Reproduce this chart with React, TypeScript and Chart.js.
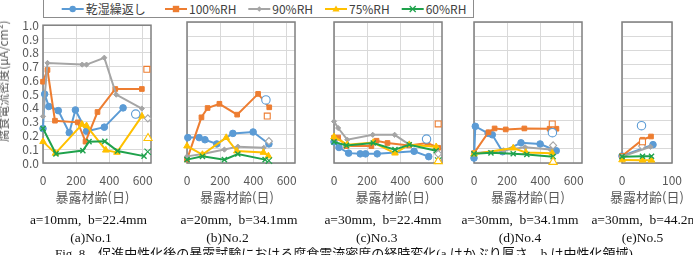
import React, { useEffect, useRef } from "react";
import { Chart, registerables } from "chart.js";

Chart.register(...registerables);

type Pt = [number, number];

// ---- series definitions -------------------------------------------------
const SERIES_LABELS = ["乾湿繰返し", "100%RH", "90%RH", "75%RH", "60%RH"];
const SERIES_COLORS = ["#5B9BD5", "#ED7D31", "#A5A5A5", "#FFC000", "#1FA24C"];
const SERIES_MARKERS = ["circle", "rect", "rectRot", "triangle", "crossRot"];
const MARKER_RADII = [3.3, 3.3, 2.6, 3.8, 3.6];

// ---- axis ticks ---------------------------------------------------------
const CURRENT_TICKS = [0, 0.1, 0.2, 0.3, 0.4, 0.5, 0.6, 0.7, 0.8, 0.9, 1.0];
const AGE_TICKS = [0, 200, 400, 600];
const AGE_TICKS_NO5 = [0, 100];
const AGE_MAX = 650;
const AGE_MAX_NO5 = 100;

// ---- No.1  [exposure age (days), corrosion current density (μA/cm²)] ----
const no1Dry: Pt[] = [[0, 0.25], [10, 0.5], [35, 0.41], [92, 0.38], [158, 0.22], [195, 0.385], [262, 0.23], [369, 0.26], [482, 0.4]];
const no1Rh100: Pt[] = [[0, 0.59], [27, 0.675], [72, 0.307], [209, 0.295], [256, 0.155], [328, 0.37], [435, 0.537], [595, 0.537]];
const no1Rh90: Pt[] = [[0, 0.338], [27, 0.726], [236, 0.714], [262, 0.714], [369, 0.764], [441, 0.496], [595, 0.395]];
const no1Rh75: Pt[] = [[0, 0.155], [75, 0.07], [235, 0.28], [262, 0.27], [378, 0.093], [445, 0.077], [595, 0.34]];
const no1Rh60: Pt[] = [[0, 0.25], [78, 0.066], [240, 0.09], [277, 0.155], [372, 0.157], [449, 0.087], [608, 0.05]];
const no1Open: (Pt | null)[] = [[558, 0.355], [625, 0.68], [631, 0.324], [632, 0.18], [630, 0.082]];

// ---- No.2 ----
const no2Dry: Pt[] = [[5, 0.18], [73, 0.18], [108, 0.165], [179, 0.135], [276, 0.21], [398, 0.22], [493, 0.135]];
const no2Rh100: Pt[] = [[0, 0.025], [87, 0.324], [124, 0.39], [195, 0.42], [302, 0.343], [428, 0.49], [495, 0.395]];
const no2Rh90: Pt[] = [[0, 0.047], [93, 0.064], [225, 0.095], [306, 0.116], [462, 0.108]];
const no2Rh75: Pt[] = [[0, 0.12], [93, 0.06], [236, 0.18], [300, 0.085], [460, 0.075], [490, 0.05]];
const no2Rh60: Pt[] = [[0, 0.024], [93, 0.047], [225, 0.024], [306, 0.064], [470, 0.024]];
const no2Open: (Pt | null)[] = [[475, 0.447], [483, 0.333], [493, 0.155], null, [493, 0.017]];

// ---- No.3 ----
const no3Dry: Pt[] = [[0, 0.15], [30, 0.11], [88, 0.07], [158, 0.065], [190, 0.065], [260, 0.065], [482, 0.083], [570, 0.045]];
const no3Rh100: Pt[] = [[0, 0.18], [25, 0.18], [74, 0.12], [225, 0.12], [256, 0.158], [322, 0.142], [451, 0.125], [562, 0.142], [627, 0.108]];
const no3Rh90: Pt[] = [[0, 0.295], [25, 0.248], [80, 0.165], [233, 0.2], [365, 0.2], [453, 0.13]];
const no3Rh75: Pt[] = [[0, 0.185], [80, 0.13], [236, 0.145], [367, 0.07], [453, 0.13], [615, 0.115]];
const no3Rh60: Pt[] = [[0, 0.15], [75, 0.125], [236, 0.142], [367, 0.095], [453, 0.13], [615, 0.087]];
const no3Open: (Pt | null)[] = [[557, 0.17], [627, 0.277], [627, 0.065], [627, 0.012], [627, 0.017]];

// ---- No.4 ----
const no4Dry: Pt[] = [[0, 0.035], [8, 0.26], [85, 0.21], [110, 0.2], [172, 0.08], [283, 0.143], [398, 0.135], [495, 0.087]];
const no4Rh100: Pt[] = [[0, 0.07], [87, 0.218], [124, 0.245], [191, 0.238], [303, 0.245], [455, 0.243], [496, 0.243]];
const no4Rh90: Pt[] = [[0, 0.07], [180, 0.09], [308, 0.111], [461, 0.095]];
const no4Rh75: Pt[] = [[0, 0.064], [236, 0.106], [312, 0.075], [471, 0.07]];
const no4Rh60: Pt[] = [[0, 0.065], [102, 0.072], [236, 0.066], [318, 0.06], [476, 0.045]];
const no4Open: (Pt | null)[] = [[472, 0.215], [471, 0.277], [476, 0.125], [476, 0.007], null];

// ---- No.5 ----
const no5Dry: Pt[] = [[0, 0.05], [62, 0.13]];
const no5Rh100: Pt[] = [[0, 0.05], [41, 0.165], [58, 0.188]];
const no5Rh90: Pt[] = [[0, 0.045], [57, 0.115]];
const no5Rh75: Pt[] = [[0, 0.022], [41, 0.02], [59, 0.02]];
const no5Rh60: Pt[] = [[0, 0.045], [41, 0.048], [59, 0.048]];
const no5Open: (Pt | null)[] = [[39, 0.265], [41, 0.15], [40, 0.12], null, null];

// ---- text ----
const Y_TITLE = "腐食電流密度(μA/cm²)";
const X_TITLE = "暴露材齢(日)";
const FIG_CAPTION = "Fig. 8\u3000促進中性化後の暴露試験における腐食電流密度の経時変化(a はかぶり厚さ，b は中性化領域)";

// ---- layout ----
const PLOT_TOP = 22;
const PLOT_H = 141;
const PAD_TOP = 8;
const PAD_RIGHT = 12;
const AXIS_H = 27;
const SANS = "'Noto Sans CJK JP', 'Noto Sans', sans-serif";
const SERIF = "'Liberation Serif', 'Times New Roman', 'Noto Sans CJK JP', serif";
const TEXT_GRAY = "#595959";

type PanelDef = {
  series: Pt[][];
  open: (Pt | null)[];
  ageMax: number;
  ageTicks: number[];
  left: number;
  width: number;
  yLabels: boolean;
  titleX: number;
  capX: number;
  nameX: number;
  cap: string;
  name: string;
};

const PANELS: PanelDef[] = [
  { series: [no1Dry, no1Rh100, no1Rh90, no1Rh75, no1Rh60], open: no1Open, ageMax: AGE_MAX, ageTicks: AGE_TICKS, left: 43, width: 108, yLabels: true, titleX: 92.5, capX: 88.5, nameX: 91, cap: "a=10mm,\u00a0\u00a0b=22.4mm", name: "(a)No.1" },
  { series: [no2Dry, no2Rh100, no2Rh90, no2Rh75, no2Rh60], open: no2Open, ageMax: AGE_MAX, ageTicks: AGE_TICKS, left: 187, width: 108, yLabels: false, titleX: 237, capX: 239, nameX: 227.5, cap: "a=20mm,\u00a0\u00a0b=34.1mm", name: "(b)No.2" },
  { series: [no3Dry, no3Rh100, no3Rh90, no3Rh75, no3Rh60], open: no3Open, ageMax: AGE_MAX, ageTicks: AGE_TICKS, left: 334, width: 108, yLabels: false, titleX: 392.5, capX: 383, nameX: 376.7, cap: "a=30mm,\u00a0\u00a0b=22.4mm", name: "(c)No.3" },
  { series: [no4Dry, no4Rh100, no4Rh90, no4Rh75, no4Rh60], open: no4Open, ageMax: AGE_MAX, ageTicks: AGE_TICKS, left: 474, width: 108, yLabels: false, titleX: 528, capX: 520, nameX: 520, cap: "a=30mm,\u00a0\u00a0b=34.1mm", name: "(d)No.4" },
  { series: [no5Dry, no5Rh100, no5Rh90, no5Rh75, no5Rh60], open: no5Open, ageMax: AGE_MAX_NO5, ageTicks: AGE_TICKS_NO5, left: 622, width: 50, yLabels: false, titleX: 647, capX: 650, nameX: 642.5, cap: "a=30mm,\u00a0\u00a0b=44.2mm", name: "(e)No.5" },
];

// plot-area frame, drawn under the series
const framePlugin = {
  id: "plotFrame",
  beforeDatasetsDraw(chart: any) {
    const { ctx, chartArea: a } = chart;
    ctx.save();
    ctx.strokeStyle = "#7f7f7f";
    ctx.lineWidth = 1.5;
    ctx.strokeRect(a.left, a.top, a.right - a.left, a.bottom - a.top);
    ctx.restore();
  },
};

function Panel({ p }: { p: PanelDef }) {
  const ref = useRef<HTMLCanvasElement>(null);
  const axisW = p.yLabels ? 43 : 6;
  const cw = axisW + p.width + PAD_RIGHT;
  const ch = PAD_TOP + PLOT_H + AXIS_H;

  useEffect(() => {
    if (!ref.current) return;
    const datasets: any[] = [];
    p.series.forEach((pts, i) => {
      datasets.push({
        label: SERIES_LABELS[i],
        data: pts.map(([x, y]) => ({ x, y })),
        borderColor: SERIES_COLORS[i],
        backgroundColor: SERIES_COLORS[i],
        borderWidth: 2,
        pointStyle: SERIES_MARKERS[i],
        pointRadius: MARKER_RADII[i],
        pointBackgroundColor: SERIES_COLORS[i],
        pointBorderColor: SERIES_COLORS[i],
        pointBorderWidth: i === 4 ? 1.4 : 1,
        tension: 0,
        clip: false,
        order: 10 - i,
      });
    });
    p.open.forEach((pt, i) => {
      if (!pt) return;
      datasets.push({
        label: SERIES_LABELS[i],
        data: [{ x: pt[0], y: pt[1] }],
        showLine: false,
        pointStyle: SERIES_MARKERS[i],
        pointRadius: MARKER_RADII[i] + 0.9,
        pointBackgroundColor: "#ffffff",
        pointBorderColor: SERIES_COLORS[i],
        pointBorderWidth: 1.1,
        clip: false,
        order: 0,
      });
    });

    const tickFont = { family: SANS, size: 12 };
    const chart = new Chart(ref.current, {
      type: "line",
      data: { datasets },
      plugins: [framePlugin],
      options: {
        animation: false,
        responsive: false,
        maintainAspectRatio: false,
        devicePixelRatio: 1,
        events: [],
        layout: { padding: { top: PAD_TOP, right: PAD_RIGHT, left: 0, bottom: 0 } },
        plugins: { legend: { display: false }, tooltip: { enabled: false } },
        scales: {
          x: {
            type: "linear",
            min: 0,
            max: p.ageMax,
            afterBuildTicks: (s: any) => {
              s.ticks = p.ageTicks.map((v) => ({ value: v }));
            },
            afterFit: (s: any) => {
              s.height = AXIS_H;
            },
            grid: { color: "#d9d9d9", lineWidth: 1, drawTicks: true, tickLength: 10, tickColor: "rgba(0,0,0,0)" },
            border: { display: false },
            ticks: { padding: 0, font: tickFont, color: TEXT_GRAY, maxRotation: 0, autoSkip: false },
          },
          y: {
            type: "linear",
            min: 0,
            max: 1,
            afterBuildTicks: (s: any) => {
              s.ticks = CURRENT_TICKS.map((v) => ({ value: v }));
            },
            afterFit: (s: any) => {
              s.width = axisW;
            },
            grid: { color: "#d9d9d9", lineWidth: 1, drawTicks: false },
            border: { display: false },
            ticks: {
              display: p.yLabels,
              padding: 4,
              font: tickFont,
              color: TEXT_GRAY,
              autoSkip: false,
              callback: (v: any) => Number(v).toFixed(1),
            },
          },
        },
      } as any,
    });
    return () => chart.destroy();
  }, []);

  return (
    <canvas
      ref={ref}
      width={cw}
      height={ch}
      style={{ position: "absolute", left: p.left - axisW, top: PLOT_TOP - PAD_TOP, width: cw, height: ch }}
    />
  );
}

function LegendMarker({ i, cx, cy }: { i: number; cx: number; cy: number }) {
  const c = SERIES_COLORS[i];
  switch (SERIES_MARKERS[i]) {
    case "circle":
      return <circle cx={cx} cy={cy} r={3.2} fill={c} />;
    case "rect":
      return <rect x={cx - 3.2} y={cy - 3.2} width={6.4} height={6.4} fill={c} />;
    case "rectRot":
      return <polygon points={`${cx},${cy - 2.8} ${cx + 2.8},${cy} ${cx},${cy + 2.8} ${cx - 2.8},${cy}`} fill={c} />;
    case "triangle":
      return <polygon points={`${cx},${cy - 3.6} ${cx + 3.6},${cy + 2.6} ${cx - 3.6},${cy + 2.6}`} fill={c} />;
    default:
      return (
        <g stroke={c} strokeWidth={1.3}>
          <line x1={cx - 3} y1={cy - 3} x2={cx + 3} y2={cy + 3} />
          <line x1={cx - 3} y1={cy + 3} x2={cx + 3} y2={cy - 3} />
        </g>
      );
  }
}

const LEGEND_LINE_X = [61.7, 165, 248.3, 325, 401.7];

function Legend() {
  const cy = 9;
  return (
    <>
      <div
        style={{
          position: "absolute",
          left: 43,
          top: -10,
          width: 431,
          height: 28,
          boxSizing: "border-box",
          border: "1.5px solid #8c8c8c",
          background: "#fff",
        }}
      />
      <svg width={693} height={20} style={{ position: "absolute", left: 0, top: 0 }}>
        {LEGEND_LINE_X.map((x, i) => (
          <g key={i}>
            <line x1={x} y1={cy} x2={x + 22} y2={cy} stroke={SERIES_COLORS[i]} strokeWidth={2} />
            <LegendMarker i={i} cx={x + 11} cy={cy} />
          </g>
        ))}
      </svg>
      {LEGEND_LINE_X.map((x, i) => (
        <div
          key={i}
          style={{
            position: "absolute",
            left: x + 24,
            top: cy,
            transform: "translateY(-50%)",
            font: `12px ${SANS}`,
            color: "#404040",
            whiteSpace: "nowrap",
            lineHeight: 1,
          }}
        >
          {SERIES_LABELS[i]}
        </div>
      ))}
    </>
  );
}

function Centered({ x, y, font, color, children }: { x: number; y: number; font: string; color: string; children: React.ReactNode }) {
  return (
    <div
      style={{
        position: "absolute",
        left: x,
        top: y,
        transform: "translate(-50%, -50%)",
        font,
        color,
        whiteSpace: "nowrap",
        lineHeight: 1,
      }}
    >
      {children}
    </div>
  );
}

export default function App() {
  return (
    <div
      style={{
        position: "absolute",
        left: 0,
        top: 0,
        width: 693,
        height: 255,
        overflow: "hidden",
        background: "#fff",
      }}
    >
      <Legend />
      {PANELS.map((p, i) => (
        <Panel key={i} p={p} />
      ))}
      <div
        style={{
          position: "absolute",
          left: 3,
          top: 81,
          transform: "translate(-50%, -50%) rotate(-90deg)",
          font: `12px ${SANS}`,
          color: TEXT_GRAY,
          whiteSpace: "nowrap",
          lineHeight: 1,
        }}
      >
        {Y_TITLE}
      </div>
      {PANELS.map((p, i) => (
        <React.Fragment key={i}>
          <Centered x={p.titleX} y={196} font={`13px ${SANS}`} color={TEXT_GRAY}>
            {X_TITLE}
          </Centered>
          <Centered x={p.capX} y={220} font={`13.5px ${SERIF}`} color="#111">
            {p.cap}
          </Centered>
          <Centered x={p.nameX} y={238} font={`13.5px ${SERIF}`} color="#111">
            {p.name}
          </Centered>
        </React.Fragment>
      ))}
      <div
        style={{
          position: "absolute",
          left: 55,
          top: 247,
          font: `13px ${SERIF}`,
          color: "#111",
          whiteSpace: "nowrap",
          lineHeight: 1,
        }}
      >
        {FIG_CAPTION}
      </div>
    </div>
  );
}
